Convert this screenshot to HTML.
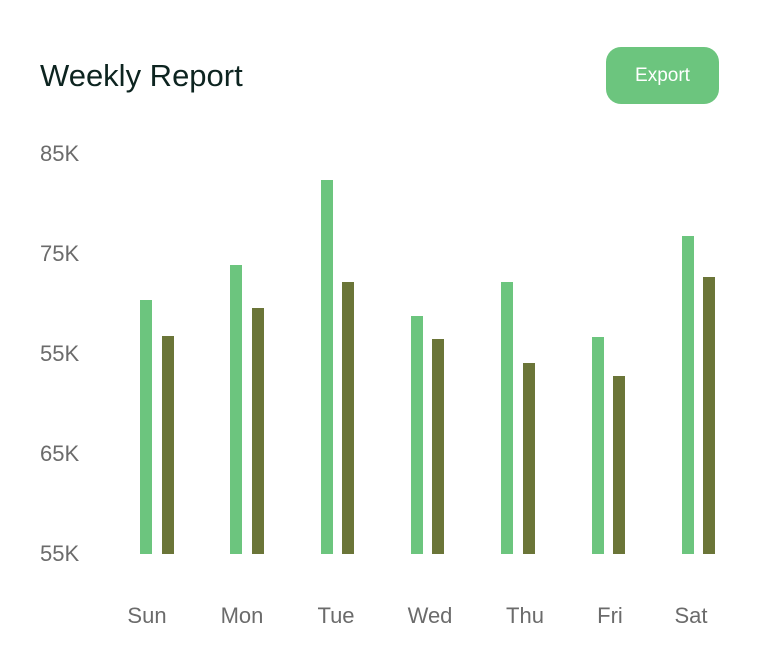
<!DOCTYPE html>
<html><head><style>
body{margin:0;width:758px;height:671px;background:#fff;position:relative;font-family:"Liberation Sans",sans-serif;overflow:hidden}
.t{position:absolute;white-space:nowrap}
.b{position:absolute;width:12px;bottom:117px}
.g{background:#6cc57e}.d{background:#6b7538}
.y{left:40px;font-size:22px;color:#6b6b6b}
.x{font-size:22px;color:#6b6b6b;top:603px;width:80px;text-align:center}
</style></head><body>
<div class="t" style="left:40px;top:58px;font-size:31px;color:#0d2420">Weekly Report</div>
<div class="t" style="left:606px;top:47px;width:113px;height:57px;border-radius:15px;background:#6cc57e;color:#fff;font-size:19px;line-height:57px;text-align:center">Export</div>
<div class="t y" style="top:141px">85K</div>
<div class="t y" style="top:241px">75K</div>
<div class="t y" style="top:341px">55K</div>
<div class="t y" style="top:441px">65K</div>
<div class="t y" style="top:541px">55K</div>
<div class="b g" style="left:140px;top:300px"></div><div class="b d" style="left:162px;top:336px"></div>
<div class="b g" style="left:230px;top:265px"></div><div class="b d" style="left:252px;top:308px"></div>
<div class="b g" style="left:321px;top:180px"></div><div class="b d" style="left:342px;top:282px"></div>
<div class="b g" style="left:411px;top:316px"></div><div class="b d" style="left:432px;top:339px"></div>
<div class="b g" style="left:501px;top:282px"></div><div class="b d" style="left:523px;top:363px"></div>
<div class="b g" style="left:592px;top:337px"></div><div class="b d" style="left:613px;top:376px"></div>
<div class="b g" style="left:682px;top:236px"></div><div class="b d" style="left:703px;top:277px"></div>
<div class="t x" style="left:107px">Sun</div>
<div class="t x" style="left:202px">Mon</div>
<div class="t x" style="left:296px">Tue</div>
<div class="t x" style="left:390px">Wed</div>
<div class="t x" style="left:485px">Thu</div>
<div class="t x" style="left:570px">Fri</div>
<div class="t x" style="left:651px">Sat</div>
</body></html>
